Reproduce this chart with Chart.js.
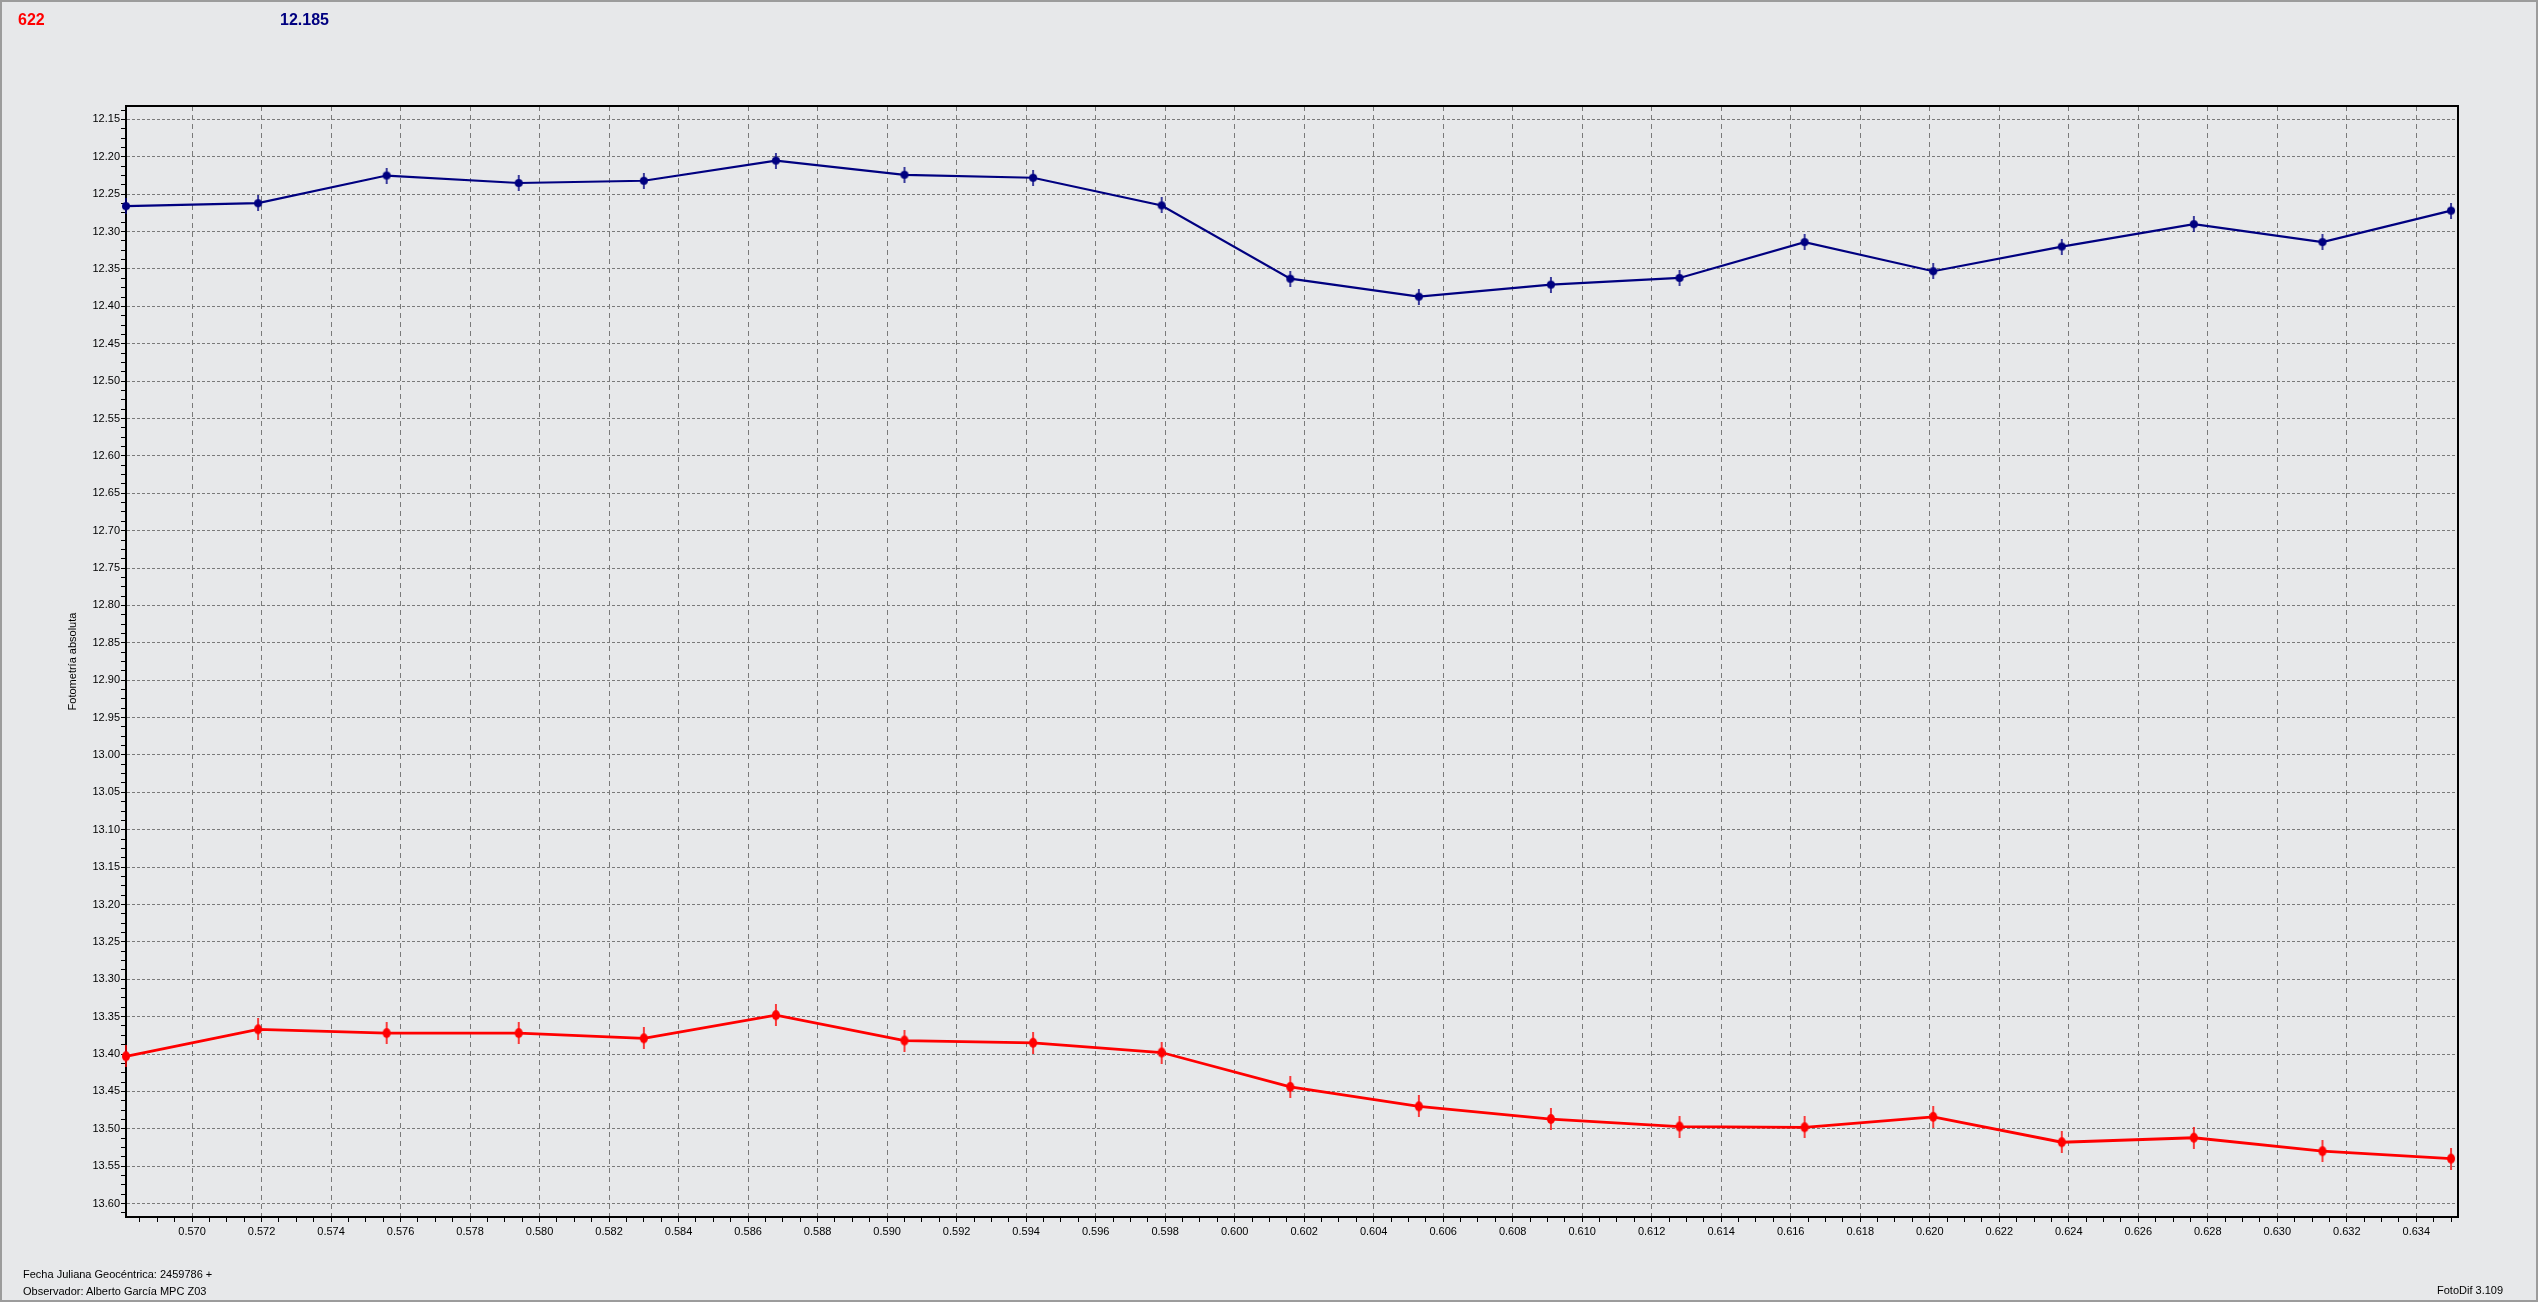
<!DOCTYPE html>
<html>
<head>
<meta charset="utf-8">
<title>FotoDif</title>
<script src="https://cdn.jsdelivr.net/npm/chart.js@4.4.1/dist/chart.umd.min.js"></script>
<style>
html,body{margin:0;padding:0;background:#e7e8ea;overflow:hidden}
#wrap{position:relative;width:2538px;height:1302px;font-family:"Liberation Sans",Arial,sans-serif}
#frame{position:absolute;left:0;top:0;width:2538px;height:1302px;box-sizing:border-box;border:2px solid #9c9c9c;pointer-events:none}
canvas{position:absolute;left:0;top:0}
.t{position:absolute;white-space:nowrap;line-height:normal}
</style>
</head>
<body>
<div id="wrap">
  <canvas id="curva" width="2538" height="1302"></canvas>
  <div class="t" style="left:18px;top:11px;font-weight:bold;font-size:16px;color:#ff0000">622</div>
  <div class="t" style="left:280px;top:11px;font-weight:bold;font-size:16px;color:#000080">12.185</div>
  <div class="t" style="left:23px;top:1268px;font-size:11px;color:#000">Fecha Juliana Geocéntrica: 2459786 +</div>
  <div class="t" style="left:23px;top:1285px;font-size:11px;color:#000">Observador: Alberto García MPC Z03</div>
  <div class="t" style="left:2437px;top:1284px;font-size:11px;color:#000">FotoDif 3.109</div>
  <div id="frame"></div>
</div>
<script>
/*-------------------
    DATOS
--------------------*/
// fecha juliana (fraccion sobre 2459786)
const fechas = [0.5681, 0.5719, 0.5756, 0.5794, 0.5830, 0.5868, 0.5905, 0.5942, 0.5979, 0.6016,
                0.6053, 0.6091, 0.6128, 0.6164, 0.6201, 0.6238, 0.6276, 0.6313, 0.6350];
// objeto 622 (rojo)
const mag622 = [13.403, 13.367, 13.372, 13.372, 13.379, 13.348, 13.382, 13.385, 13.398, 13.444,
                13.470, 13.487, 13.497, 13.498, 13.484, 13.518, 13.512, 13.530, 13.540];
// estrella de comparacion 12.185 (azul)
const magComp = [12.266, 12.262, 12.225, 12.235, 12.232, 12.205, 12.224, 12.228, 12.265, 12.363,
                 12.387, 12.371, 12.362, 12.314, 12.353, 12.320, 12.290, 12.314, 12.272];

// ejes: rango y pasos de marcas (mayor con etiqueta, menor sin ella)
const xRango = [0.5681, 0.6352];
const xPasos = [0.002, 0.0005];
const yRango = [12.132, 13.618];
const yPasos = [0.05, 0.0125];

/*-------------------
    MARCADORES
--------------------*/
function marca(color, w, h, barra) {
    const c = document.createElement('canvas');
    c.width = w + 2;
    c.height = barra;
    const g = c.getContext('2d');
    const cx = c.width / 2, cy = c.height / 2;
    g.fillStyle = color;
    g.fillRect(cx - 0.75, 0, 1.5, barra);
    g.beginPath();
    g.ellipse(cx, cy, w / 2, h / 2, 0, 0, Math.PI * 2);
    g.fill();
    return c;
}

function puntos(xs, ys) {
    return xs.map((x, i) => ({x: x, y: ys[i]}));
}

// marcas cada paso menor, etiqueta solo en las mayores
function construirMarcas(scale, pasos) {
    const n = Math.round(pasos[0] / pasos[1]);
    const k0 = Math.ceil(scale.min / pasos[1] - 1e-9);
    const k1 = Math.floor(scale.max / pasos[1] + 1e-9);
    const t = [];
    for (let k = k0; k <= k1; k++) {
        t.push({value: k * pasos[1], lab: k % n === 0});
    }
    scale.ticks = t;
}

const marco = {
    id: 'marco',
    beforeDatasetsDraw(chart) {
        const {ctx, chartArea: a} = chart;
        ctx.save();
        ctx.strokeStyle = '#000';
        ctx.lineWidth = 2;
        ctx.strokeRect(a.left, a.top, a.right - a.left, a.bottom - a.top);
        ctx.restore();
    }
};

const fuente = {family: '"Liberation Sans", Arial, sans-serif', size: 11};

new Chart(document.getElementById('curva'), {
    type: 'line',
    data: {
        datasets: [
            {
                label: '12.185',
                data: puntos(fechas, magComp),
                borderColor: '#000080',
                backgroundColor: '#000080',
                borderWidth: 2.2,
                pointStyle: marca('#000080', 8, 8, 16),
                clip: false
            },
            {
                label: '622',
                data: puntos(fechas, mag622),
                borderColor: '#ff0000',
                backgroundColor: '#ff0000',
                borderWidth: 2.8,
                pointStyle: marca('#ff0000', 8, 10, 22),
                clip: false
            }
        ]
    },
    options: {
        responsive: false,
        animation: false,
        devicePixelRatio: 1,
        layout: {padding: {left: 66, top: 106, right: 80, bottom: 45}},
        plugins: {
            legend: {display: false},
            tooltip: {enabled: false}
        },
        elements: {line: {tension: 0}},
        scales: {
            x: {
                type: 'linear',
                position: 'bottom',
                min: xRango[0],
                max: xRango[1],
                afterBuildTicks: s => construirMarcas(s, xPasos),
                afterFit: s => { s.height = 40; },
                grid: {
                    color: c => (c.tick && c.tick.lab) ? '#7a7a7a' : 'rgba(0,0,0,0)',
                    tickColor: '#000',
                    tickLength: 5,
                    lineWidth: 1
                },
                border: {display: true, color: '#000', width: 2, dash: [5, 4]},
                ticks: {
                    autoSkip: false,
                    maxRotation: 0,
                    minRotation: 0,
                    padding: 3,
                    color: '#000',
                    font: fuente,
                    callback: v => (Math.round(v / xPasos[1]) % Math.round(xPasos[0] / xPasos[1]) === 0) ? v.toFixed(3) : ''
                }
            },
            y: {
                type: 'linear',
                position: 'left',
                reverse: true,
                min: yRango[0],
                max: yRango[1],
                afterBuildTicks: s => construirMarcas(s, yPasos),
                afterFit: s => { s.width = 60; },
                grid: {
                    color: c => (c.tick && c.tick.lab) ? '#7a7a7a' : 'rgba(0,0,0,0)',
                    tickColor: '#000',
                    tickLength: 5,
                    lineWidth: 1
                },
                border: {display: true, color: '#000', width: 2, dash: [3, 2]},
                title: {
                    display: true,
                    text: 'Fotometría absoluta',
                    color: '#000',
                    font: fuente,
                    padding: 0
                },
                ticks: {
                    autoSkip: false,
                    padding: 1,
                    color: '#000',
                    font: fuente,
                    callback: v => (Math.round(v / yPasos[1]) % Math.round(yPasos[0] / yPasos[1]) === 0) ? v.toFixed(2) : ''
                }
            }
        }
    },
    plugins: [marco]
});
</script>
</body>
</html>
